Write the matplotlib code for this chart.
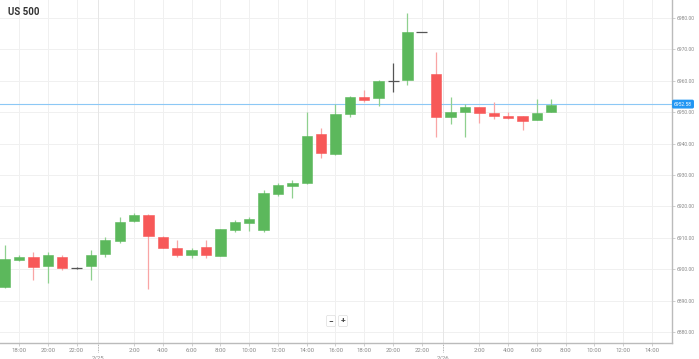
import matplotlib
matplotlib.use("Agg")
import matplotlib.pyplot as plt
import numpy as np

plt.rcParams['font.family'] = ['Roboto', 'DejaVu Sans']

# hourly candles; hour index 0 = 18:00 on 2/24
hours = list(range(-1, 38))
opens = [6894.3, 6903.0, 6903.9, 6901.0, 6903.9, 6900.4, 6901.0, 6904.8, 6909.0, 6915.4,
         6917.3, 6910.3, 6906.8, 6904.5, 6907.1, 6904.2, 6912.5, 6914.7, 6912.5, 6923.9,
         6926.5, 6927.5, 6943.1, 6936.7, 6949.4, 6954.8, 6954.5, 6959.9, 6960.3, 6975.5,
         6962.2, 6948.5, 6950.1, 6951.7, 6949.7, 6948.8, 6948.8, 6947.5, 6950.1]
highs = [6907.7, 6904.5, 6905.5, 6905.5, 6904.5, 6900.6, 6906.1, 6910.3, 6916.6, 6917.9,
         6917.5, 6910.6, 6909.3, 6906.8, 6909.3, 6912.8, 6915.7, 6916.6, 6925.2, 6927.5,
         6928.5, 6950.1, 6945.0, 6952.6, 6955.2, 6957.1, 6960.3, 6965.7, 6981.6, 6975.6,
         6969.2, 6954.8, 6952.6, 6951.7, 6953.2, 6950.1, 6948.8, 6954.2, 6954.2]
lows = [6894.0, 6902.5, 6896.6, 6895.6, 6899.7, 6900.2, 6896.6, 6903.9, 6908.3, 6915.0,
        6893.7, 6906.8, 6903.9, 6903.6, 6903.6, 6904.2, 6911.8, 6912.2, 6911.8, 6923.3,
        6922.7, 6927.1, 6935.4, 6936.4, 6948.5, 6953.2, 6952.0, 6956.4, 6958.7, 6975.4,
        6942.1, 6946.2, 6942.1, 6946.6, 6947.8, 6947.8, 6944.3, 6947.5, 6950.1]
closes = [6903.2, 6904.0, 6900.7, 6904.5, 6900.4, 6900.4, 6904.5, 6909.3, 6915.0, 6917.3,
          6910.6, 6906.8, 6904.5, 6906.1, 6904.5, 6912.8, 6915.0, 6916.0, 6924.3, 6926.8,
          6927.5, 6942.4, 6937.0, 6949.4, 6954.8, 6953.9, 6959.9, 6959.9, 6975.5, 6975.5,
          6948.5, 6950.1, 6951.7, 6949.7, 6948.8, 6948.2, 6947.2, 6949.7, 6952.3]

current_price = 6952.58
title = "US 500"

price_ticks = [6880, 6890, 6900, 6910, 6920, 6930, 6940, 6950, 6960, 6970, 6980]
time_ticks = [0, 2, 4, 8, 10, 12, 14, 16, 18, 20, 22, 24, 26, 28, 32, 34, 36, 38, 40, 42, 44]
time_labels = ["18:00", "20:00", "22:00", "2:00", "4:00", "6:00", "8:00", "10:00", "12:00",
               "14:00", "16:00", "18:00", "20:00", "22:00", "2:00", "4:00", "6:00", "8:00",
               "10:00", "12:00", "14:00"]
day_breaks = [5.5, 29.5]
day_labels = ["2/25", "2/26"]

GREEN = '#5cb85c'
GREEN_W = '#8fd08f'
RED = '#f75858'
RED_W = '#f9a5a5'
GRAY = '#555555'

fig = plt.figure(figsize=(6.99, 3.59), dpi=100)
ax = fig.add_axes([0, 16/359, 672/699, 343/359])
ax.set_xlim(-1.32, 45.39)
ax.set_ylim(6876.5, 6985.73)

for t, o, h, l, c in zip(hours, opens, highs, lows, closes):
    if c > o:
        col, wc = GREEN, GREEN_W
    elif c < o:
        col, wc = RED, RED_W
    else:
        col, wc = GRAY, GRAY
    ax.vlines(t, l, h, color=wc, lw=0.9, zorder=2)
    if c == o:
        ax.hlines(o, t - 0.38, t + 0.38, color=GRAY, lw=0.9, zorder=3)
    else:
        ax.bar(t, abs(c - o), bottom=min(o, c), width=0.72, color=col,
               edgecolor=col, lw=0.4, zorder=3)

# current price line
ax.axhline(current_price, color='#8cc8f5', lw=0.8, zorder=1)

# grid
for p in price_ticks:
    ax.axhline(p, color='#f0f0f0', lw=0.7, zorder=0)
for t in time_ticks:
    ax.axvline(t, color='#f0f0f0', lw=0.7, zorder=0)
for d in day_breaks:
    ax.axvline(d, color='#e6e6e6', lw=0.7, zorder=0)

for s in ['top', 'left']:
    ax.spines[s].set_visible(False)
ax.spines['right'].set_color('#bbbbbb')
ax.spines['bottom'].set_color('#bbbbbb')
ax.spines['right'].set_linewidth(1.0)
ax.spines['bottom'].set_linewidth(1.0)

ax.yaxis.tick_right()
ax.set_yticks(price_ticks)
ax.set_yticklabels([f"{p:.2f}" for p in price_ticks])
ax.tick_params(axis='y', length=2, width=0.5, color='#bbbbbb', pad=1.5,
               labelsize=3.6, labelcolor='#888888')
ax.set_xticks(time_ticks)
ax.set_xticklabels(time_labels)
ax.tick_params(axis='x', length=2, width=0.5, color='#bbbbbb', pad=1.5,
               labelsize=4.3, labelcolor='#888888')

for d, lab in zip(day_breaks, day_labels):
    ax.plot([d, d], [0, -0.025], transform=ax.get_xaxis_transform(), clip_on=False,
            color='#999999', lw=0.6, ls=(0, (1, 1)))
    ax.text(d, -0.035, lab, transform=ax.get_xaxis_transform(), ha='center', va='top',
            fontsize=4.3, color='#888888')

# current price label
ax.text(1.003, current_price, f"{current_price:.2f}", transform=ax.get_yaxis_transform(),
        ha='left', va='center', fontsize=3.6, color='white', clip_on=False,
        bbox=dict(boxstyle='round,pad=0.25,rounding_size=0.2', fc='#2196f3', ec='#2196f3'))

# title
ax.text(8/672, 1 - 12/343, title, transform=ax.transAxes, ha='left', va='center',
        fontsize=7, fontweight='bold', color='#333333')

# zoom buttons
for xpx, s in [(331, '−'), (343, '+')]:
    ax.text(xpx/672, 1 - 321/343, s, transform=ax.transAxes, ha='center', va='center',
            fontsize=6, fontweight='bold', color='#444444',
            bbox=dict(boxstyle='round,pad=0.25,rounding_size=0.15', fc='white', ec='#dddddd', lw=0.5))

fig.savefig('out.png', dpi=100)
